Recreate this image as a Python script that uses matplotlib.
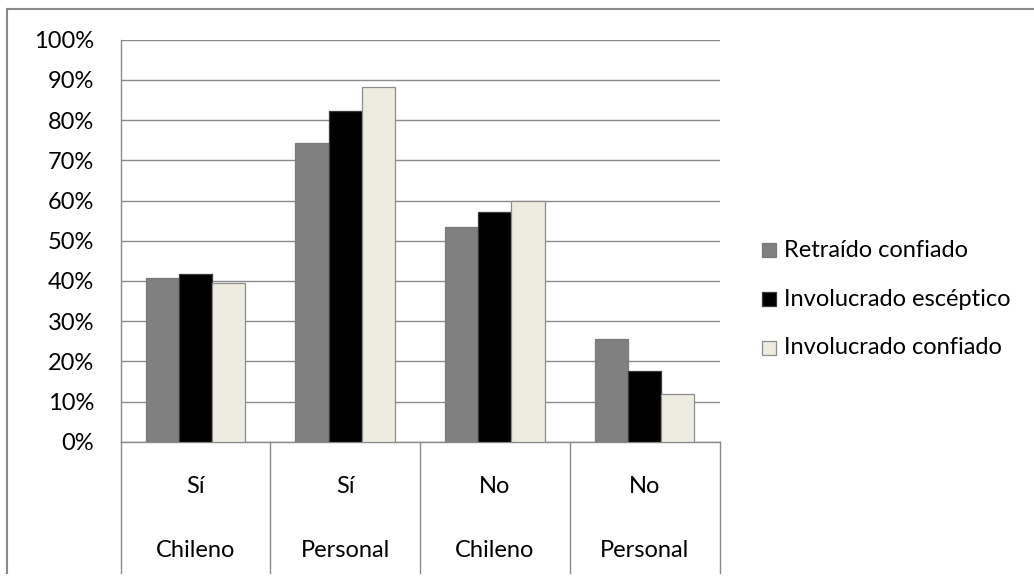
import matplotlib
matplotlib.use("Agg")
import matplotlib.pyplot as plt
import matplotlib.transforms as mtransforms
from matplotlib.patches import Rectangle
from matplotlib.lines import Line2D
from matplotlib.ticker import PercentFormatter
import numpy as np

# Data
answer_labels = ["Sí", "Sí", "No", "No"]
scope_labels = ["Chileno", "Personal", "Chileno", "Personal"]
series_names = ["Retraído confiado", "Involucrado escéptico", "Involucrado confiado"]
retraido_confiado = [0.408, 0.742, 0.535, 0.256]
involucrado_esceptico = [0.418, 0.823, 0.571, 0.176]
involucrado_confiado = [0.394, 0.882, 0.600, 0.118]
y_ticks = [0.0, 0.1, 0.2, 0.3, 0.4, 0.5, 0.6, 0.7, 0.8, 0.9, 1.0]

series_values = [retraido_confiado, involucrado_esceptico, involucrado_confiado]
fill_colors = ["#808080", "#000000", "#EEECE1"]
edge_colors = ["#7a7a7a", "#3a3a3a", "#8c8c8c"]
line_gray = "#8a8a8a"

plt.rcParams["font.family"] = ["Lato", "DejaVu Sans"]
FS = 17

W, H = 1034, 580
fig = plt.figure(figsize=(W / 100, H / 100), dpi=100)
fig.patch.set_facecolor("white")

# plot area in pixels: x 120.5..719.5, y 39.7..441.7
x0, x1 = 120.5, 719.5
y_top, y_bot = 39.7, 441.7
ax = fig.add_axes([x0 / W, 1 - y_bot / H, (x1 - x0) / W, (y_bot - y_top) / H])

n = len(answer_labels)
x = np.arange(n)
bar_w = 0.2215
for i, vals in enumerate(series_values):
    ax.bar(x + (i - 1) * bar_w, vals, width=bar_w, color=fill_colors[i],
           edgecolor=edge_colors[i], linewidth=0.9, zorder=3,
           label=series_names[i])

ax.set_xlim(-0.5, n - 0.5)
ax.set_ylim(0, 1)
ax.set_yticks(y_ticks)
ax.yaxis.set_major_formatter(PercentFormatter(1.0, decimals=0))
ax.grid(axis="y", color=line_gray, linewidth=1.0, zorder=0)
ax.set_axisbelow(True)
ax.set_xticks([])
ax.tick_params(axis="y", length=0, pad=19.0, labelsize=FS, labelcolor="black")
for s in ["top", "right"]:
    ax.spines[s].set_visible(False)
for s in ["left", "bottom"]:
    ax.spines[s].set_color(line_gray)
    ax.spines[s].set_linewidth(1.0)

# Two-level category axis below the baseline
trans = mtransforms.blended_transform_factory(ax.transData, ax.transAxes)
line_bottom = (y_bot - 572.7) / (y_bot - y_top)
for b in np.arange(-0.5, n, 1.0):
    ax.add_line(Line2D([b, b], [0, line_bottom], transform=trans,
                       color=line_gray, linewidth=1.0, clip_on=False))
row1 = (y_bot - 486.5) / (y_bot - y_top)
row2 = (y_bot - 550.5) / (y_bot - y_top)
for i in range(n):
    ax.text(x[i], row1, answer_labels[i], transform=trans, ha="center",
            va="center", fontsize=FS)
    ax.text(x[i], row2, scope_labels[i], transform=trans, ha="center",
            va="center", fontsize=FS)

# Legend
leg_y = [250.3, 299.0, 347.5]
sq = 14.0
for i, name in enumerate(series_names):
    cy = leg_y[i]
    fig.add_artist(Rectangle((762 / W, 1 - (cy + sq / 2) / H), sq / W, sq / H,
                             transform=fig.transFigure, facecolor=fill_colors[i],
                             edgecolor=edge_colors[i], linewidth=0.9))
    fig.text(783.5 / W, 1 - cy / H, name, ha="left", va="center", fontsize=FS)

# Chart frame (left and top edges)
fig.add_artist(Line2D([7 / W, 7 / W], [1 - 9 / H, 1 - 572.7 / H],
                      transform=fig.transFigure, color=line_gray, linewidth=1.5))
fig.add_artist(Line2D([7 / W, 1.0], [1 - 9 / H, 1 - 9 / H],
                      transform=fig.transFigure, color=line_gray, linewidth=1.5))

fig.savefig("out.png", dpi=100, facecolor="white")
